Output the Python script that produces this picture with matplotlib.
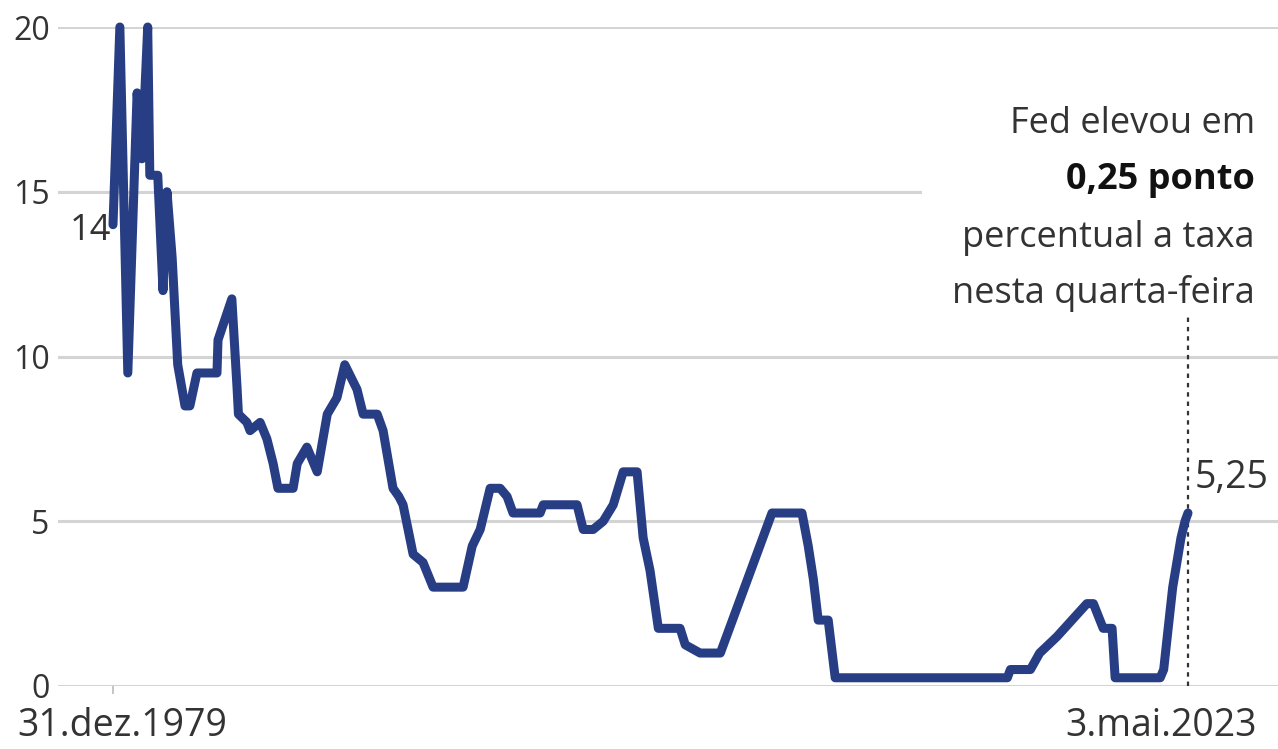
import pandas as pd
import matplotlib.pyplot as plt

# Fed funds target rate (upper bound), % per year
dates = [
    "1979-12-31", "1980-04-10", "1980-08-05", "1980-12-20", "1981-03-01",
    "1981-05-25", "1981-06-25", "1981-10-20", "1982-01-05", "1982-03-05",
    "1982-05-20", "1982-08-10", "1982-11-25", "1983-02-05", "1983-05-20",
    "1984-03-10", "1984-03-25", "1984-10-15", "1985-01-01", "1985-01-20",
    "1985-05-25", "1985-07-10", "1985-12-05", "1986-03-15", "1986-06-15",
    "1986-08-25", "1987-04-05", "1987-06-05", "1987-10-25", "1988-03-25",
    "1988-08-20", "1989-01-10", "1989-05-05", "1989-11-01", "1990-01-30",
    "1990-08-25", "1990-11-20", "1991-04-15", "1991-07-10", "1991-09-10",
    "1992-02-05", "1992-06-30", "1992-11-25", "1994-02-10", "1994-06-25",
    "1994-10-20", "1995-03-15", "1995-08-10", "1995-11-20", "1996-02-15",
    "1997-03-20", "1997-05-05", "1998-09-15", "1998-12-15", "1999-05-10",
    "1999-10-05", "2000-03-01", "2000-07-25", "2001-02-15", "2001-05-15",
    "2001-08-25", "2001-12-25", "2002-11-10", "2003-01-25", "2003-09-01",
    "2004-06-25", "2006-07-25", "2007-10-10", "2008-01-10", "2008-03-25",
    "2008-06-05", "2008-10-30", "2009-02-10", "2016-01-20", "2016-03-05",
    "2016-12-25", "2017-05-10", "2017-09-15", "2018-01-20", "2019-04-05",
    "2019-07-10", "2019-12-01", "2020-04-10", "2020-05-25", "2022-03-20",
    "2022-05-10", "2022-07-15", "2022-09-20", "2022-11-20", "2023-01-20",
    "2023-03-20", "2023-05-03",
]
rates = [
    14.0, 20.0, 9.5, 18.0, 16.0,
    20.0, 15.5, 15.5, 12.0, 15.0,
    13.0, 9.75, 8.5, 8.5, 9.5,
    9.5, 10.5, 11.75, 9.0, 8.25,
    8.0, 7.75, 8.0, 7.5, 6.75,
    6.0, 6.0, 6.75, 7.25, 6.5,
    8.25, 8.75, 9.75, 9.0, 8.25,
    8.25, 7.75, 6.0, 5.75, 5.5,
    4.0, 3.75, 3.0, 3.0, 4.25,
    4.75, 6.0, 6.0, 5.75, 5.25,
    5.25, 5.5, 5.5, 4.75, 4.75,
    5.0, 5.5, 6.5, 6.5, 4.5,
    3.5, 1.75, 1.75, 1.25, 1.0,
    1.0, 5.25, 5.25, 4.25, 3.25,
    2.0, 2.0, 0.25, 0.25, 0.5,
    0.5, 1.0, 1.25, 1.5, 2.5,
    2.5, 1.75, 1.75, 0.25, 0.25,
    0.5, 1.75, 3.0, 3.75, 4.5,
    5.0, 5.25,
]
yticks = [0, 5, 10, 15, 20]
start_label = "31.dez.1979"
end_label = "3.mai.2023"
note_lines = ["Fed elevou em", "0,25 ponto", "percentual a taxa", "nesta quarta-feira"]

plt.rcParams["font.family"] = ["Open Sans", "DejaVu Sans"]

t = pd.to_datetime(dates)
first, last = t[0], t[-1]

fig = plt.figure(figsize=(12.78, 7.49), dpi=100)
ax = fig.add_axes([58 / 1278, 63 / 749, 1220 / 1278, 659 / 749])

# x range chosen so the series spans most of the width
span = last - first
ax.set_xlim(first - span * (55 / 1075), first + span * (1165 / 1075))
ax.set_ylim(0, 20)

grid = "#d4d4d4"
for v in yticks:
    xmax = 862 / 1220 if v == 15 else 1.0
    ax.axhline(v, xmin=0, xmax=xmax, color=grid, lw=2.2, zorder=1)

ax.plot(t, rates, color="#283e84", lw=6.5, solid_joinstyle="round",
        solid_capstyle="round", clip_on=False, zorder=3)

# dotted marker for the latest decision
ax.vlines(last, 0, 11.2, colors="#333333", linestyles=(0, (2, 2.2)), lw=1.6, zorder=2)
ax.vlines(first, -0.25, 0, colors="#bbbbbb", lw=1.2, clip_on=False)

for s in ax.spines.values():
    s.set_visible(False)
ax.set_xticks([])
ax.set_yticks(yticks)
ax.set_yticklabels([str(v) for v in yticks], fontsize=23, color="#333333")
ax.tick_params(axis="y", length=0, pad=6)

ax.text(first - span * 0.002, 13.8, "14", ha="right", va="center",
        fontsize=26, color="#333333")
ax.text(last + span * 0.006, 6.3, "5,25", ha="left", va="center",
        fontsize=27, color="#333333")

ax.text(first + span * 0.009, -1.2, start_label, ha="center", va="center",
        fontsize=27, color="#333333")
ax.text(last - span * 0.025, -1.2, end_label, ha="center", va="center",
        fontsize=27, color="#333333")

note_y = [17.05, 15.35, 13.6, 11.9]
for i, (line, y) in enumerate(zip(note_lines, note_y)):
    ax.text(last + span * 0.062, y, line, ha="right", va="center", fontsize=26,
            color="#111111" if i == 1 else "#333333",
            fontweight="bold" if i == 1 else "normal")

fig.savefig("out.png", dpi=100, facecolor="white")
